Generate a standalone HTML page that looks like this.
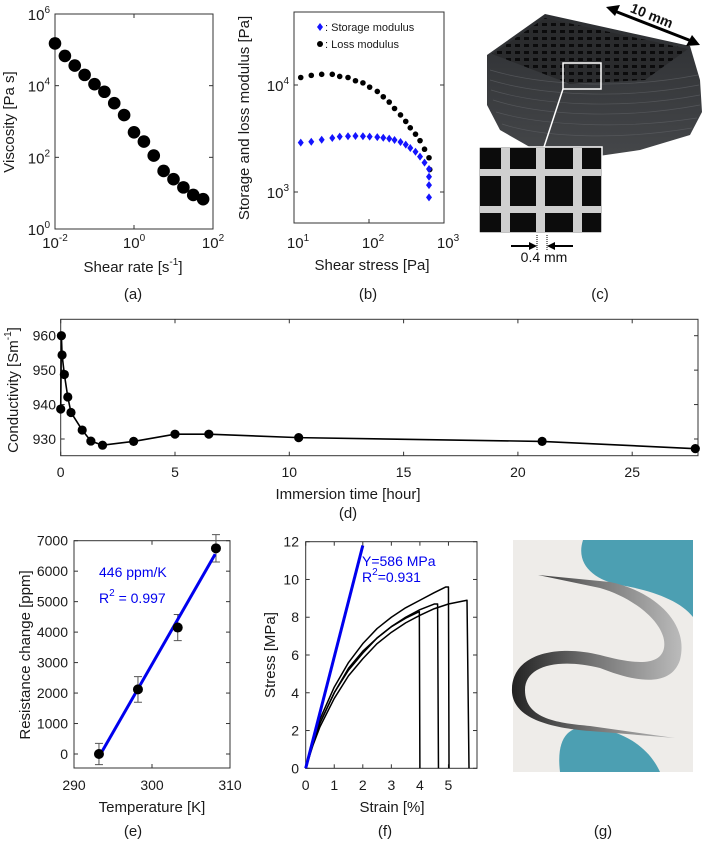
<!DOCTYPE html>
<html><head><meta charset="utf-8"><style>
html,body{margin:0;padding:0;background:#fff;}
svg{display:block;font-family:"Liberation Sans",Arial,sans-serif;}
</style></head><body>
<svg id="fig" width="708" height="841" viewBox="0 0 708 841" xmlns="http://www.w3.org/2000/svg">
<defs>
<linearGradient id="stripG" x1="0" y1="0" x2="1" y2="0"><stop offset="0" stop-color="#222"/><stop offset="0.5" stop-color="#777"/><stop offset="1" stop-color="#bbb"/></linearGradient>
<linearGradient id="cubeG" x1="0" y1="0" x2="0" y2="1"><stop offset="0" stop-color="#2c2e31"/><stop offset="1" stop-color="#45474a"/></linearGradient>
<pattern id="holes" width="9" height="7" patternUnits="userSpaceOnUse"><rect width="9" height="7" fill="#2a2b2d"/><rect x="2" y="2" width="5" height="3" fill="#0b0b0c"/></pattern>
</defs>
<!-- panel c photo -->
<g>
<path d="M487,55 L545,14 L690,46 L700,80 L702,112 L690,135 L640,150 L585,158 L535,150 L500,130 L487,105 Z" fill="url(#cubeG)"/>
<g stroke="#5a5c60" stroke-width="0.7" fill="none" opacity="0.8">
<path d="M490,70 C540,85 620,90 698,75"/><path d="M490,80 C540,95 620,100 699,85"/><path d="M491,90 C540,105 620,110 700,95"/><path d="M493,100 C540,115 620,120 700,105"/><path d="M496,112 C540,125 620,130 697,118"/><path d="M502,124 C545,138 620,140 692,128"/>
</g>
<polygon points="492,54 545,18 688,49 645,80 570,84" fill="url(#holes)"/>
<rect x="563" y="63" width="38" height="26" fill="none" stroke="#fff" stroke-width="1.5"/>
<line x1="563" y1="89" x2="544" y2="147" stroke="#fff" stroke-width="1.5"/>
<rect x="479" y="147" width="123" height="86" fill="#0c0c0c" stroke="#fff" stroke-width="1.5"/>
<g fill="#cfcfcf"><rect x="501" y="148" width="9" height="84"/><rect x="536" y="148" width="9" height="84"/><rect x="573" y="148" width="9" height="84"/><rect x="480" y="169" width="121" height="7"/><rect x="480" y="206" width="121" height="7"/></g>
<line x1="537" y1="235" x2="537" y2="250" stroke="#000" stroke-dasharray="1,1"/><line x1="547" y1="235" x2="547" y2="250" stroke="#000" stroke-dasharray="1,1"/>
<line x1="511" y1="246" x2="534" y2="246" stroke="#000" stroke-width="2"/><polygon points="537,246 529,242 529,250" fill="#000"/>
<line x1="550" y1="246" x2="573" y2="246" stroke="#000" stroke-width="2"/><polygon points="547,246 555,242 555,250" fill="#000"/>
<text x="544" y="262" font-size="14" text-anchor="middle" fill="#111">0.4 mm</text>
<line x1="612" y1="10" x2="694" y2="42" stroke="#000" stroke-width="3"/><polygon points="606,7 620,5 615,16" fill="#000"/><polygon points="700,45 686,46 692,35" fill="#000"/>
<text x="650" y="20" font-size="14" font-weight="bold" text-anchor="middle" transform="rotate(22 650 20)" fill="#111">10 mm</text>
</g>
<!-- panel g photo -->
<g>
<rect x="513" y="540" width="180" height="232" fill="#eeece9"/>
<path d="M583,540 L693,540 L693,617 C680,600 650,590 620,585 C595,580 575,565 583,540 Z" fill="#4c9fb2"/>
<path d="M560,772 L660,772 C650,750 630,735 600,728 C575,723 555,730 560,772 Z" fill="#4c9fb2"/>
<path d="M538,575 L610,582 C650,590 690,620 680,660 C670,690 630,680 600,668 C560,658 525,665 525,690 C525,720 560,723 590,726 L675,738 L590,731 C550,728 510,718 512,688 C514,652 560,645 600,655 C630,663 660,668 664,648 C668,625 635,598 600,588 Z" fill="url(#stripG)"/>
</g>
<g id="charts"></g>
</svg>
<script>
// ---------- DATA ----------
// (a) viscosity
const shearRate = [0.01,0.0178,0.0316,0.0562,0.1,0.178,0.316,0.562,1,1.78,3.16,5.62,10,17.8,31.6,56.2];
const viscosity = [151000,67600,36300,20000,11000,6760,3240,1510,500,275,112,41.7,24.5,14.5,8.9,6.8];
const aTicksX = [-2,0,2];
const aTicksY = [0,2,4,6];
// (b) moduli
const lossStress = [12.3,17,23.4,32.4,40.7,52.5,66,83,102,129,155,186,219,263,309,355,417,479,550,631,646];
const lossModulus = [11750,12300,12590,12590,12020,11750,10960,10470,9550,8710,7760,6920,6030,5250,4570,3980,3470,3020,2510,2090,1620];
const storStress = [12.3,17,23.4,32.4,40.7,52.5,66,83,102,129,155,186,219,263,309,355,417,479,550,631,631,631,631];
const storModulus = [2890,2950,3080,3200,3290,3320,3340,3320,3290,3260,3210,3150,3060,2930,2770,2580,2380,2140,1880,1640,1390,1160,890];
const bTicksX = [1,2,3];
const bTicksY = [3,4];
// (d) conductivity
const immTime = [0,0.03,0.06,0.16,0.31,0.45,0.94,1.32,1.83,3.19,5.0,6.48,10.41,21.06,27.76];
const conductivity = [938.7,960,954.4,948.75,942.2,937.7,932.6,929.4,928.2,929.3,931.4,931.4,930.4,929.3,927.2];
const dTicksX = [0,5,10,15,20,25];
const dTicksY = [930,940,950,960];
// (e) resistance
const temperature = [293.2,298.2,303.3,308.2];
const resistance = [0,2120,4150,6750];
const resErr = [350,420,430,450];
const fitT = [293.3,308.1];
const fitR = [-50,6560];
const eTicksX = [290,300,310];
const eTicksY = [0,1000,2000,3000,4000,5000,6000,7000];
// (f) stress-strain
const strainA = [0,0.25,0.5,1,1.5,2,2.5,3,3.5,4,4.5,4.9,5.0,5.02];
const stressA = [0,1.4,2.6,4.3,5.6,6.6,7.4,8.0,8.5,8.9,9.3,9.6,9.6,0];
const strainB = [0,0.25,0.5,1,1.5,2,2.5,3,3.5,4,4.5,4.62,4.65];
const stressB = [0,1.3,2.4,4.0,5.3,6.2,6.9,7.5,8.0,8.4,8.7,8.7,0];
const strainC = [0,0.25,0.5,1,1.5,2,2.5,3,3.5,3.98,4.0];
const stressC = [0,1.3,2.4,4.0,5.2,6.1,6.9,7.5,7.95,8.3,0];
const strainD = [0,0.25,0.5,1,1.5,2,2.5,3,3.5,4,4.5,5,5.65,5.72];
const stressD = [0,1.2,2.2,3.7,4.9,5.8,6.6,7.2,7.7,8.1,8.45,8.7,8.9,0];
const youngStrain = [0,2];
const youngStress = [0,11.8];
const fTicksX = [0,1,2,3,4,5,6];
const fTicksY = [0,2,4,6,8,10,12];

// ---------- HELPERS ----------
const NS = "http://www.w3.org/2000/svg";
const root = document.getElementById('charts');
function mk(tag, attrs, parent){ const e=document.createElementNS(NS,tag); for(const k in attrs) e.setAttribute(k,attrs[k]); (parent||root).appendChild(e); return e; }
function txt(x,y,s,opt,parent){ opt=opt||{}; const t=mk('text',{x:x,y:y,'font-size':opt.size||14,'text-anchor':opt.anchor||'middle',fill:opt.fill||'#1a1a1a'},parent); if(opt.rot) t.setAttribute('transform','rotate('+opt.rot+' '+x+' '+y+')'); t.innerHTML=s; return t; }
function lin(d0,d1,r0,r1){ return v=>r0+(v-d0)*(r1-r0)/(d1-d0); }
function logs(d0,d1,r0,r1){ return v=>r0+(Math.log10(v)-d0)*(r1-r0)/(d1-d0); }
function box(x0,y0,x1,y1,name){ const r=mk('rect',{x:x0,y:y0,width:x1-x0,height:y1-y0,fill:'none',stroke:'#333','stroke-width':1});
 
  }
function tick(x1,y1,x2,y2){ mk('line',{x1:x1,y1:y1,x2:x2,y2:y2,stroke:'#333','stroke-width':1}); }

// ---------- (a) ----------
(function(){
 const X=logs(-2,2,55,213), Y=logs(0,6,229,14);
 box(55,14,213,229,'viscosity-plot-area');
 aTicksX.forEach(p=>{ const x=X(Math.pow(10,p)); tick(x,229,x,225); tick(x,14,x,18);
  const t=txt(x,248,'10<tspan font-size="10" dy="-7">'+p+'</tspan>',{size:15});
    });
 aTicksY.forEach(p=>{ const y=Y(Math.pow(10,p)); tick(55,y,59,y); tick(213,y,209,y);
  const t=txt(50,y+6,'10<tspan font-size="10" dy="-7">'+p+'</tspan>',{size:15,anchor:'end'});
    });
 shearRate.forEach((v,i)=>{ const c=mk('circle',{cx:X(v),cy:Y(viscosity[i]),r:6.3,fill:'#000'});
  
   });
 let t=txt(14,122,'Viscosity [Pa s]',{size:15,rot:-90});  
 t=txt(133,272,'Shear rate [s<tspan font-size="10" dy="-7">-1</tspan><tspan dy="7">]</tspan>',{size:15});  
 t=txt(133,299,'(a)',{size:15});  
})();

// ---------- (b) ----------
(function(){
 const X=logs(1,3,294,444), Y=logs(4,5,85,-22);
 box(294,12,444,223,'moduli-plot-area');
 bTicksX.forEach(p=>{ const x=X(Math.pow(10,p)); tick(x,223,x,219);
  const t=txt(x+4,248,'10<tspan font-size="10" dy="-7">'+p+'</tspan>',{size:15});
    });
 bTicksY.forEach(p=>{ const y=Y(Math.pow(10,p)); tick(294,y,298,y); tick(444,y,440,y);
  const t=txt(289,y+6,'10<tspan font-size="10" dy="-7">'+p+'</tspan>',{size:15,anchor:'end'});
    });
 lossStress.forEach((v,i)=>{ const c=mk('circle',{cx:X(v),cy:Y(lossModulus[i]),r:2.8,fill:'#000'});
  
   });
 storStress.forEach((v,i)=>{ const x=X(v), y=Y(storModulus[i]);
  const d=mk('polygon',{points:(x)+','+(y-4)+' '+(x+3)+','+y+' '+x+','+(y+4)+' '+(x-3)+','+y,fill:'#1414ff'});
  
   });
 const lg=mk('polygon',{points:'320,23 323,27 320,31 317,27',fill:'#1414ff'});
  
 let t=txt(325,31,': Storage modulus',{size:11,anchor:'start'});  
 const lc=mk('circle',{cx:320,cy:44,r:3,fill:'#000'});
  
 t=txt(325,48,': Loss modulus',{size:11,anchor:'start'});  
 t=txt(249,118,'Storage and loss modulus [Pa]',{size:15,rot:-90});  
 t=txt(372,270,'Shear stress [Pa]',{size:15});  
 t=txt(368,299,'(b)',{size:15});  
 t=txt(600,299,'(c)',{size:15});  
})();

// ---------- (d) ----------
(function(){
 const X=lin(0,5,60.7,175), Y=lin(930,960,439,335.7);
 box(60.7,319.3,698,455.7,'conductivity-plot-area');
 dTicksX.forEach(v=>{ const x=X(v); tick(x,455.7,x,451.7); tick(x,319.3,x,323.3);
  const t=txt(x,477,String(v),{size:14});
    });
 dTicksY.forEach(v=>{ const y=Y(v); tick(60.7,y,64.7,y); tick(698,y,694,y);
  const t=txt(56,y+5,String(v),{size:14,anchor:'end'});
    });
 const pts=immTime.map((v,i)=>X(v)+','+Y(conductivity[i])).join(' ');
 const pl=mk('polyline',{points:pts,fill:'none',stroke:'#000','stroke-width':1.6});
  
 immTime.forEach((v,i)=>{ const c=mk('circle',{cx:X(v),cy:Y(conductivity[i]),r:4.6,fill:'#000'});
  
   });
 let t=txt(18,390,'Conductivity [Sm<tspan font-size="10" dy="-7">-1</tspan><tspan dy="7">]</tspan>',{size:15,rot:-90});  
 t=txt(348,499,'Immersion time [hour]',{size:15});  
 t=txt(348,518,'(d)',{size:15});  
})();

// ---------- (e) ----------
(function(){
 const X=lin(290,310,74,230), Y=lin(0,7000,754,540.7);
 box(74,540.7,230,768,'resistance-plot-area');
 eTicksX.forEach(v=>{ const x=X(v); tick(x,768,x,764); tick(x,540.7,x,544.7);
  const t=txt(x,790,String(v),{size:14});
    });
 eTicksY.forEach(v=>{ const y=Y(v); tick(74,y,78,y); tick(230,y,226,y);
  const t=txt(68,y+5,String(v),{size:14,anchor:'end'});
    });
 temperature.forEach((v,i)=>{ const x=X(v), y1=Y(resistance[i]-resErr[i]), y2=Y(resistance[i]+resErr[i]);
  const g=mk('path',{d:'M'+x+','+y1+'V'+y2+'M'+(x-4)+','+y1+'H'+(x+4)+'M'+(x-4)+','+y2+'H'+(x+4),stroke:'#555','stroke-width':1,fill:'none'});
  
   });
 const fl=mk('line',{x1:X(fitT[0]),y1:Y(fitR[0]),x2:X(fitT[1]),y2:Y(fitR[1]),stroke:'#0000ee','stroke-width':3});
  
 temperature.forEach((v,i)=>{ const c=mk('circle',{cx:X(v),cy:Y(resistance[i]),r:5,fill:'#000'});
  
   });
 let t=txt(99,577,'446 ppm/K',{size:14,anchor:'start',fill:'#0000ee'});  
 t=txt(99,603,'R<tspan font-size="10" dy="-7">2</tspan><tspan dy="7"> = 0.997</tspan>',{size:14,anchor:'start',fill:'#0000ee'});  
 t=txt(30,655,'Resistance change [ppm]',{size:15,rot:-90});  
 t=txt(152,812,'Temperature [K]',{size:15});  
 t=txt(133,836,'(e)',{size:15});  
})();

// ---------- (f) ----------
(function(){
 const X=lin(0,6,305.7,477), Y=lin(0,12,768.3,541.7);
 box(305.7,541.7,477,768.3,'stress-strain-plot-area');
 fTicksX.forEach(v=>{ const x=X(v); tick(x,768.3,x,764.3); tick(x,541.7,x,545.7);
  if(v<6){ const t=txt(x,790,String(v),{size:14});
    } });
 fTicksY.forEach(v=>{ const y=Y(v); tick(305.7,y,309.7,y); tick(477,y,473,y);
  const t=txt(299,y+5,String(v),{size:14,anchor:'end'});
    });
 [[strainA,stressA,'curve-sample-1'],[strainB,stressB,'curve-sample-2'],[strainC,stressC,'curve-sample-3'],[strainD,stressD,'curve-sample-4']].forEach(s=>{
  const p=mk('polyline',{points:s[0].map((v,i)=>X(v)+','+Y(s[1][i])).join(' '),fill:'none',stroke:'#000','stroke-width':1.5,'stroke-linejoin':'round'});
  
   });
 const yl=mk('line',{x1:X(youngStrain[0]),y1:Y(youngStress[0]),x2:X(youngStrain[1]),y2:Y(youngStress[1]),stroke:'#0000ee','stroke-width':3});
  
 let t=txt(362,566,'Y=586 MPa',{size:14,anchor:'start',fill:'#0000ee'});  
 t=txt(362,582,'R<tspan font-size="10" dy="-7">2</tspan><tspan dy="7">=0.931</tspan>',{size:14,anchor:'start',fill:'#0000ee'});  
 t=txt(275,655,'Stress [MPa]',{size:15,rot:-90});  
 t=txt(392,812,'Strain [%]',{size:15});  
 t=txt(385,836,'(f)',{size:15});  
 t=txt(603,836,'(g)',{size:15});  
})();
</script>
</body></html>
